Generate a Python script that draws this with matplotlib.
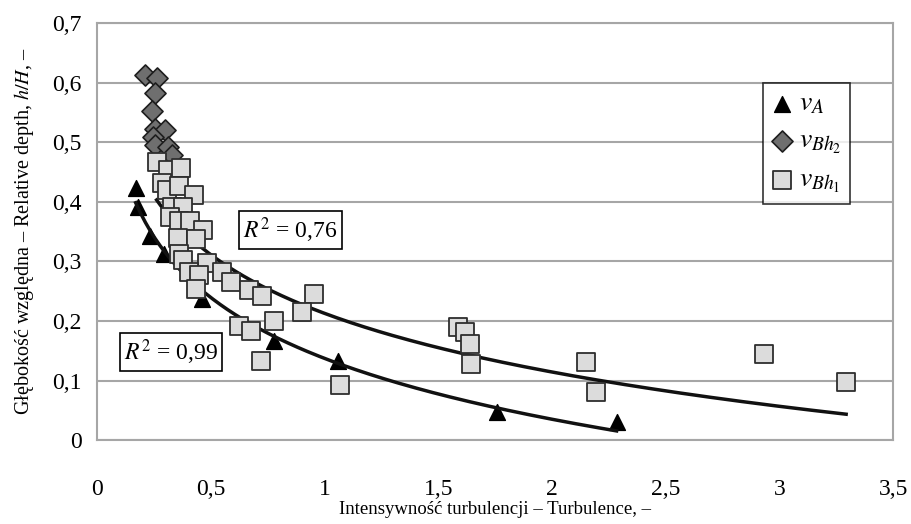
import numpy as np
import matplotlib
matplotlib.use("Agg")
import matplotlib.pyplot as plt
from matplotlib.ticker import FuncFormatter

plt.rcParams['font.family'] = ['Liberation Serif', 'DejaVu Serif']
plt.rcParams['mathtext.fontset'] = 'stix'

# v_A (triangles)
va_x = [0.170, 0.179, 0.231, 0.293, 0.463, 0.777, 1.061, 1.760, 2.284]
va_y = [0.423, 0.392, 0.342, 0.312, 0.237, 0.167, 0.133, 0.048, 0.030]

# v_Bh2 (diamonds)
vb2_x = [0.210, 0.262, 0.253, 0.240, 0.253, 0.297, 0.245, 0.253, 0.310, 0.328]
vb2_y = [0.612, 0.607, 0.582, 0.553, 0.523, 0.520, 0.508, 0.495, 0.492, 0.478]

# v_Bh1 (squares)
vb1_x = [0.262, 0.310, 0.367, 0.284, 0.306, 0.362, 0.428, 0.328, 0.376, 0.319,
         0.362, 0.410, 0.467, 0.354, 0.437, 0.362, 0.376, 0.485, 0.406, 0.450,
         0.550, 0.590, 0.437, 0.668, 0.725, 0.952, 0.900, 0.777, 0.624, 0.677,
         0.721, 1.070, 1.585, 1.616, 1.638, 1.642, 2.148, 2.192, 2.934, 3.293]
vb1_y = [0.467, 0.453, 0.457, 0.432, 0.420, 0.427, 0.412, 0.392, 0.392, 0.375,
         0.368, 0.367, 0.353, 0.340, 0.338, 0.313, 0.302, 0.298, 0.283, 0.277,
         0.283, 0.265, 0.253, 0.252, 0.242, 0.245, 0.215, 0.200, 0.192, 0.183,
         0.133, 0.092, 0.190, 0.182, 0.162, 0.128, 0.132, 0.080, 0.145, 0.097]

r2_a = "0,99"
r2_b = "0,76"


def log_fit(x, y):
    x = np.asarray(x)
    b, a = np.polyfit(np.log(x), np.asarray(y), 1)
    xs = np.linspace(x.min(), x.max(), 200)
    return xs, a + b * np.log(xs)


fig = plt.figure(figsize=(9.11, 5.24), dpi=100)
ax = fig.add_axes([0.1065, 0.160, 0.874, 0.796])

ax.grid(axis='y', color='#a6a6a6', lw=1.5, zorder=0)
for s in ax.spines.values():
    s.set_color('#a6a6a6')
    s.set_linewidth(1.5)

ax.scatter(va_x, va_y, marker='^', s=130, color='black', zorder=3, label=r'$v_A$')
ax.scatter(vb2_x, vb2_y, marker='D', s=115, facecolor='#6f6f6f', edgecolor='#1e1e1e',
           lw=1.2, zorder=3, label=r'$v_{Bh_2}$')

xs, ys = log_fit(va_x, va_y)
ax.plot(xs, ys, color='#111111', lw=2.5, zorder=4)
xs, ys = log_fit(vb1_x, vb1_y)
ax.plot(xs, ys, color='#111111', lw=2.5, zorder=4)

ax.scatter(vb1_x, vb1_y, marker='s', s=165, facecolor='#dcdcdc', edgecolor='#2e2e2e',
           lw=1.3, zorder=5, label=r'$v_{Bh_1}$')

ax.set_xlim(0, 3.5)
ax.set_ylim(0, 0.7)
ax.set_xticks(np.arange(0, 3.51, 0.5))
ax.set_yticks(np.arange(0, 0.71, 0.1))
fmt = FuncFormatter(lambda v, p: ('%g' % round(v, 2)).replace('.', ','))
ax.xaxis.set_major_formatter(fmt)
ax.yaxis.set_major_formatter(fmt)
ax.tick_params(axis='both', length=0, labelsize=17)
ax.tick_params(axis='x', pad=28)
ax.tick_params(axis='y', pad=11)

ax.set_xlabel('Intensywność turbulencji – Turbulence, –', fontsize=13.5, labelpad=1)
ax.set_ylabel('Głębokość względna – Relative depth, $h/H$, –', fontsize=14.5, labelpad=12)

box = dict(boxstyle='square,pad=0.18', facecolor='white', edgecolor='black', lw=1.2)
ax.text(0.243, 0.504, r'$R^2$ = ' + r2_b, transform=ax.transAxes, fontsize=17,
        ha='center', va='center', bbox=box, zorder=6)
ax.text(0.093, 0.211, r'$R^2$ = ' + r2_a, transform=ax.transAxes, fontsize=17,
        ha='center', va='center', bbox=box, zorder=6)

leg = ax.legend(loc='upper left', bbox_to_anchor=(0.836, 0.856), fontsize=20,
                frameon=True, fancybox=False, handletextpad=0.2, borderpad=0.3,
                labelspacing=0.42, handlelength=0.8, scatterpoints=1,
                borderaxespad=0)
leg.get_frame().set_edgecolor('black')
leg.get_frame().set_linewidth(1.2)

fig.savefig('out.png', dpi=100)
